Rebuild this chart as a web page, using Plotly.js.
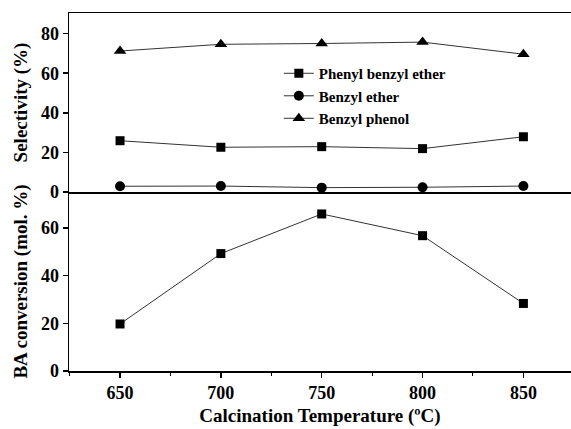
<!DOCTYPE html>
<html><head><meta charset="utf-8">
<script src="https://cdn.plot.ly/plotly-3.0.1.min.js"></script>
<style>body{margin:0;background:#fff}#c{width:571px;height:429px}</style>
</head><body><div id="c"></div>
<script>
const temps = [650, 700, 750, 800, 850];
const phenylBenzylEther = [25.9, 22.6, 22.9, 21.9, 27.9];
const benzylEther = [2.9, 3.0, 2.2, 2.4, 3.0];
const benzylPhenol = [71.2, 74.6, 75.0, 75.7, 69.6];
const baConversion = [19.7, 49.2, 65.8, 56.7, 28.3];
const xTicks = [650, 700, 750, 800, 850];

const F = '"Liberation Serif", "Times New Roman", serif';
const lineStyle = {color: '#333', width: 1};
const traces = [
  {x: temps, y: phenylBenzylEther, name: 'Phenyl benzyl ether', xaxis: 'x2', yaxis: 'y2', mode: 'lines+markers',
   line: lineStyle, marker: {symbol: 'square', size: 9, color: '#000'}},
  {x: temps, y: benzylEther, name: 'Benzyl ether', xaxis: 'x2', yaxis: 'y2', mode: 'lines+markers',
   line: lineStyle, marker: {symbol: 'circle', size: 10, color: '#000'}},
  {x: temps, y: benzylPhenol, name: 'Benzyl phenol', xaxis: 'x2', yaxis: 'y2', mode: 'lines+markers',
   line: lineStyle, marker: {symbol: 'triangle-up', size: 11, color: '#000'}},
  {x: temps, y: baConversion, name: 'BA conversion', xaxis: 'x', yaxis: 'y', mode: 'lines+markers', showlegend: false,
   line: lineStyle, marker: {symbol: 'square', size: 9, color: '#000'}}
];
const tickFont = {family: F, size: 18, color: '#000', weight: 'bold'};
const titleFont = {family: F, size: 19, color: '#000', weight: 'bold'};
const xr = [624.7, 873.6];
const layout = {
  width: 571, height: 429,
  margin: {l: 69, r: 0, t: 13, b: 58},
  paper_bgcolor: '#fff', plot_bgcolor: '#fff',
  showlegend: true,
  legend: {x: 0.418, y: 0.877, xanchor: 'left', yanchor: 'top', bgcolor: 'rgba(0,0,0,0)',
    font: {family: F, size: 15, color: '#000', weight: 'bold'}, tracegroupgap: 0, itemwidth: 30},
  xaxis: {range: xr, anchor: 'y', domain: [0, 1], tickvals: xTicks, ticks: 'outside', ticklen: 5, tickwidth: 1.5,
    tickcolor: '#000', showline: true, linecolor: '#000', linewidth: 1.5, showgrid: false, zeroline: false,
    tickfont: tickFont, minor: {dtick: 25, ticks: 'outside', ticklen: 3, tickwidth: 1, tickcolor: '#000'},
    title: {text: 'Calcination Temperature (ºC)', font: titleFont, standoff: 6}},
  xaxis2: {range: xr, anchor: 'y2', domain: [0, 1], showticklabels: false, ticks: '', showline: true, mirror: true,
    linecolor: '#000', linewidth: 1.5, showgrid: false, zeroline: false},
  yaxis: {range: [0, 75], domain: [0, 0.5], anchor: 'x', tickvals: [0, 20, 40, 60], ticks: 'outside', ticklen: 5,
    tickwidth: 1.5, tickcolor: '#000', showline: true, linecolor: '#000', linewidth: 1.5, showgrid: false,
    zeroline: false, tickfont: tickFont,
    title: {text: 'BA conversion (mol. %)', font: titleFont, standoff: 8}},
  yaxis2: {range: [0, 90.4], domain: [0.5, 1], anchor: 'x2', tickvals: [0, 20, 40, 60, 80], ticks: 'outside', ticklen: 5,
    tickwidth: 1.5, tickcolor: '#000', showline: true, linecolor: '#000', linewidth: 1.5, showgrid: false,
    zeroline: false, tickfont: tickFont,
    title: {text: 'Selectivity (%)', font: titleFont, standoff: 8}}
};
Plotly.newPlot('c', traces, layout, {displayModeBar: false, staticPlot: true});
</script></body></html>
